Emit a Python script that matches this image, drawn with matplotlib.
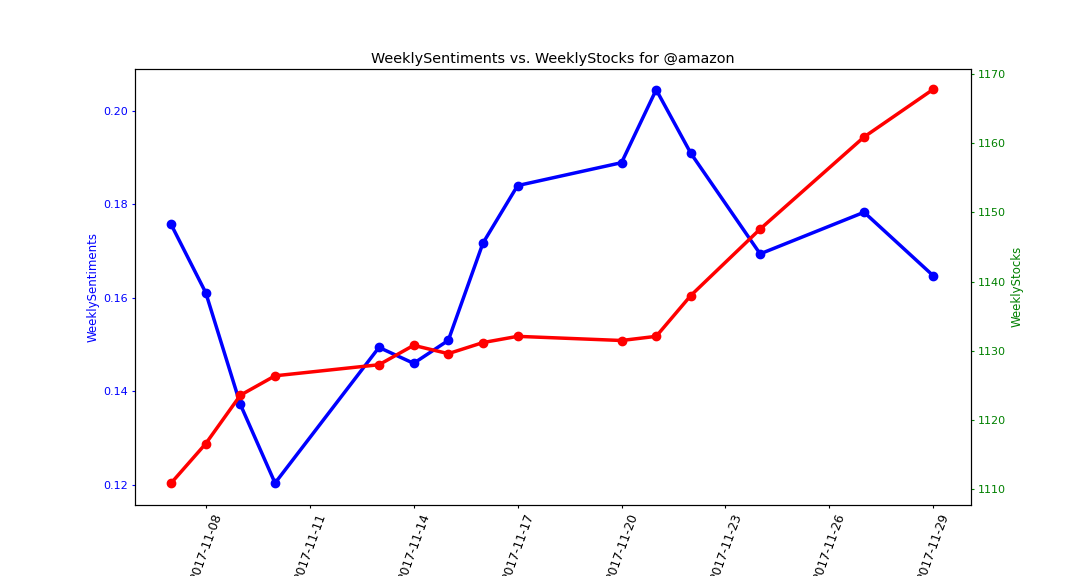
import matplotlib
matplotlib.use('Agg')
import matplotlib.pyplot as plt
import matplotlib.dates as mdates
import pandas as pd

# Data
dates = ['2017-11-07', '2017-11-08', '2017-11-09', '2017-11-10', '2017-11-13',
         '2017-11-14', '2017-11-15', '2017-11-16', '2017-11-17', '2017-11-20',
         '2017-11-21', '2017-11-22', '2017-11-24', '2017-11-27', '2017-11-29']
sentiments = [0.1757, 0.1611, 0.1372, 0.1204, 0.1494, 0.1460, 0.1509, 0.1717,
              0.1840, 0.1889, 0.2045, 0.1909, 0.1694, 0.1783, 0.1647]
stocks = [1110.9, 1116.6, 1123.6, 1126.4, 1128.0, 1130.8, 1129.6, 1131.2,
          1132.1, 1131.5, 1132.1, 1138.0, 1147.6, 1160.9, 1167.8]
x_ticks = ['2017-11-08', '2017-11-11', '2017-11-14', '2017-11-17',
           '2017-11-20', '2017-11-23', '2017-11-26', '2017-11-29']

x = pd.to_datetime(dates)

fig, ax1 = plt.subplots(figsize=(10.8, 5.76), dpi=100)
fig.subplots_adjust(left=0.125, right=0.899, top=0.88, bottom=0.124)

ax1.plot(x, sentiments, color='blue', marker='o', linewidth=2.5, markersize=6)
ax1.set_ylabel('WeeklySentiments', color='blue', fontsize=8.5, labelpad=3)
ax1.tick_params(axis='y', colors='blue', labelsize=8, length=2.5, pad=2.5)
ax1.tick_params(axis='x', labelsize=8.8, length=2.5, pad=2.5)
ax1.set_yticks([0.12, 0.14, 0.16, 0.18, 0.20])
ax1.set_ylim(0.1158, 0.2089)

ax2 = ax1.twinx()
ax2.plot(x, stocks, color='red', marker='o', linewidth=2.5, markersize=6)
ax2.set_ylabel('WeeklyStocks', color='green', fontsize=8.5, labelpad=3)
ax2.tick_params(axis='y', colors='green', labelsize=8, length=2.5, pad=2.5)
ax2.set_ylim(1107.8, 1170.7)

ax1.set_xticks(pd.to_datetime(x_ticks))
ax1.xaxis.set_major_formatter(mdates.DateFormatter('%Y-%m-%d'))
for lbl in ax1.get_xticklabels():
    lbl.set_rotation(70)
ax1.set_xlim(pd.Timestamp('2017-11-05 23:00'), pd.Timestamp('2017-11-30 02:00'))

ax1.set_title('WeeklySentiments vs. WeeklyStocks for @amazon', fontsize=10.4, pad=4.5)

plt.savefig('out.png', dpi=100)
